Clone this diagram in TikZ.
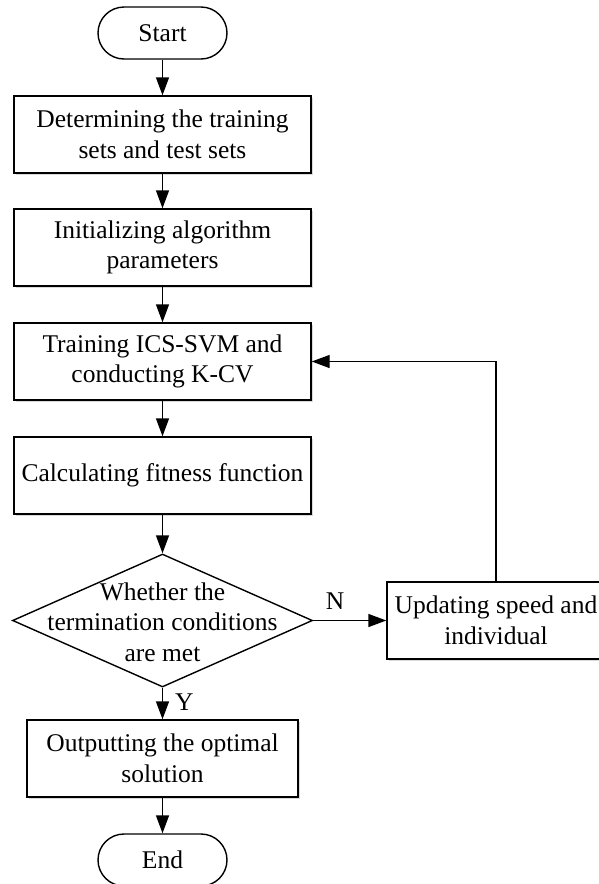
\documentclass[tikz,border=0pt]{standalone}
\usepackage{fontspec}
\setmainfont{Liberation Serif}
\usetikzlibrary{arrows.meta,shapes.geometric,shadows}
\begin{document}
\begin{tikzpicture}[x=1pt,y=-1pt,
  every node/.style={font=\fontsize{25.5}{30.5}\selectfont, align=center, inner sep=0pt},
  procbox/.style={draw, line width=1.4pt, fill=white, minimum height=77pt,
     drop shadow={shadow xshift=2pt, shadow yshift=-2pt, opacity=0.3}},
  termbox/.style={draw, line width=1.4pt, fill=white, rounded corners=26pt,
     minimum width=129pt, minimum height=52pt},
  decbox/.style={draw, diamond, line width=1.4pt, minimum width=300pt, minimum height=133pt},
  flow/.style={line width=1.4pt, -{Triangle[length=18pt,width=13pt]}},
  lbl/.style={font=\fontsize{25.5}{30.5}\selectfont}
]
\useasboundingbox (0,0) rectangle (598,884);

\node[termbox] (start) at (162.5,33) {Start};
\node[procbox, minimum width=297pt] (b1) at (162.5,134.5) {Determining the training\\sets and test sets};
\node[procbox, minimum width=297pt] (b2) at (162.5,247.5) {Initializing algorithm\\parameters};
\node[procbox, minimum width=297pt] (b3) at (162.5,361.5) {Training ICS-SVM and\\conducting K-CV};
\node[procbox, minimum width=297pt] (b4) at (162.5,475.5) {Calculating fitness function};
\node[decbox] (dec) at (162.5,620.5) {};
\node (dectext) at (162.5,622) {Whether the\\termination conditions\\are met};
\node[procbox, minimum width=218pt] (upd) at (496,620.5) {Updating speed and\\individual};
\node[procbox, minimum width=271pt] (out) at (162.5,758.5) {Outputting the optimal\\solution};
\node[termbox] (end) at (162.5,860) {End};

\draw[flow] (start) -- (b1);
\draw[flow] (b1) -- (b2);
\draw[flow] (b2) -- (b3);
\draw[flow] (b3) -- (b4);
\draw[flow] (b4) -- (dec.north);
\draw[flow] (dec.east) -- node[lbl, above=10pt, pos=0.3] (nlab) {N} (upd.west);
\draw[flow] (upd.north) |- (b3.east);
\draw[flow] (dec.south) -- node[lbl, right=12pt, pos=0.45] (ylab) {Y} (out.north);
\draw[flow] (out) -- (end);
\end{tikzpicture}
\end{document}
